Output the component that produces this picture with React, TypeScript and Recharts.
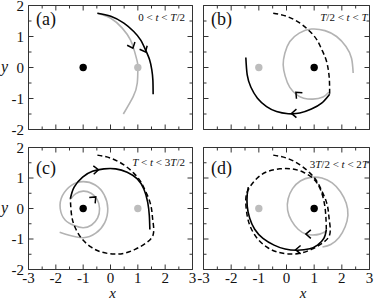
import React from "react";
import { ComposedChart, Line, Scatter, XAxis, YAxis } from "recharts";

type Pt = { x: number; y: number };
type Arrow = { x: number; y: number; dx: number; dy: number };

const pts = (a: number[][]): Pt[] => a.map(([x, y]) => ({ x, y }));

// trajectories, one array per half period
const blackA = pts([
  [-0.48, 1.75], [0.01, 1.65], [0.49, 1.43], [0.85, 1.16], [1.1, 0.89],
  [1.28, 0.57], [1.43, 0.25], [1.51, -0.07], [1.55, -0.4], [1.56, -0.86],
]);
const grayA = pts([
  [-0.48, 1.75], [0.01, 1.59], [0.43, 1.27], [0.73, 0.89], [0.88, 0.52],
  [0.98, 0.19], [1.0, 0.0], [0.98, -0.5], [0.83, -0.94], [0.47, -1.5],
]);
const blackB = pts([
  [1.56, -0.86], [1.27, -1.15], [0.9, -1.34], [0.48, -1.47], [0.06, -1.49],
  [-0.36, -1.42], [-0.72, -1.26], [-1.05, -0.99], [-1.29, -0.63], [-1.42, -0.24],
  [-1.47, 0.32],
]);
const grayB = pts([
  [1.53, -0.8], [1.32, -0.95], [0.95, -1.02], [0.62, -0.99], [0.4, -0.9],
  [0.12, -0.64], [-0.05, -0.27], [-0.12, 0.09], [-0.06, 0.46], [0.12, 0.84],
  [0.46, 1.11], [0.9, 1.24], [1.39, 1.19], [1.81, 1.0], [2.15, 0.68],
  [2.35, 0.3], [2.41, -0.18],
]);
const blackC = pts([
  [-1.47, 0.32], [-1.33, 0.7], [-1.02, 1.03], [-0.66, 1.22], [-0.24, 1.3],
  [0.19, 1.3], [0.61, 1.19], [0.98, 0.97], [1.22, 0.64], [1.36, 0.21],
  [1.42, -0.23], [1.44, -0.69],
]);
const grayC = pts([
  [-1.45, 0.32], [-1.28, 0.48], [-1.0, 0.57], [-0.71, 0.5], [-0.49, 0.3],
  [-0.4, 0.0], [-0.47, -0.31], [-0.69, -0.54], [-1.0, -0.63], [-1.33, -0.56],
  [-1.66, -0.38], [-1.84, 0.0], [-1.76, 0.42], [-1.43, 0.76], [-1.0, 0.88],
  [-0.56, 0.77], [-0.23, 0.45], [-0.1, 0.0], [-0.21, -0.46], [-0.54, -0.81],
  [-1.0, -0.96], [-1.51, -0.88], [-1.86, -0.78],
]);
const blackD = pts([
  [1.44, -0.69], [1.35, -0.98], [1.12, -1.2], [0.84, -1.32], [0.4, -1.37],
  [-0.05, -1.33], [-0.45, -1.2], [-0.85, -0.98], [-1.15, -0.68], [-1.33, -0.32],
  [-1.42, 0.08], [-1.42, 0.45], [-1.38, 0.7],
]);
const grayD = pts([
  [1.45, -0.74], [1.2, -0.84], [0.95, -0.87], [0.7, -0.84], [0.42, -0.68],
  [0.18, -0.4], [0.04, -0.05], [0.06, 0.32], [0.22, 0.65], [0.5, 0.9],
  [0.88, 1.02], [1.28, 1.0], [1.65, 0.84], [1.95, 0.55], [2.16, 0.17],
  [2.22, -0.22], [2.12, -0.6], [1.9, -0.95], [1.6, -1.18], [1.3, -1.26],
]);

const arrowsA: Arrow[] = [
  { x: 0.82, y: 0.62, dx: 0.15, dy: -0.37 },
  { x: 1.28, y: 0.5, dx: 0.3, dy: -0.64 },
];
const arrowsB: Arrow[] = [
  { x: 0.18, y: -1.48, dx: -1, dy: 0 },
  { x: 0.34, y: -0.8, dx: -0.7, dy: 0.7 },
];
const arrowsC: Arrow[] = [
  { x: -0.44, y: 1.27, dx: 1, dy: 0.05 },
  { x: -0.54, y: 0.38, dx: 0.7, dy: 0.7 },
];
const arrowsD: Arrow[] = [
  { x: 0.33, y: -1.35, dx: -1, dy: 0 },
  { x: 0.7, y: -0.84, dx: -1, dy: 0 },
];

const vortexLeft: Pt[] = [{ x: -1, y: 0 }];
const vortexRight: Pt[] = [{ x: 1, y: 0 }];

const xTicks = [-3, -2.5, -2, -1.5, -1, -0.5, 0, 0.5, 1, 1.5, 2, 2.5, 3];
const yTicks = [-2, -1.5, -1, -0.5, 0, 0.5, 1, 1.5, 2];
const panelNames = ["(a)", "(b)", "(c)", "(d)"];
const ranges = ["0 < t < T/2", "T/2 < t < T", "T < t < 3T/2", "3T/2 < t < 2T"];

const W = 374;
const H = 299;
const FONT = "Liberation Serif, Times New Roman, serif";
const GRAY = "#b3b3b3";
const FRAME = "#333";

type Side = "left" | "right" | "top" | "bottom";

function makeTick(side: Side, labels: boolean) {
  return (props: any) => {
    const { x, y, payload } = props;
    const v = payload.value;
    const major = Number.isInteger(v);
    const len = major ? 5 : 3;
    let line;
    if (side === "bottom") line = <line x1={x} y1={y} x2={x} y2={y - len} />;
    else if (side === "top") line = <line x1={x} y1={y} x2={x} y2={y + len} />;
    else if (side === "left") line = <line x1={x} y1={y} x2={x + len} y2={y} />;
    else line = <line x1={x} y1={y} x2={x - len} y2={y} />;
    let label = null;
    if (labels && major) {
      label =
        side === "bottom" ? (
          <text x={x} y={y + 13} textAnchor="middle" fontSize={15} fontFamily={FONT} fill="#111" stroke="none">
            {v}
          </text>
        ) : (
          <text x={x - 4.5} y={y + 5} textAnchor="end" fontSize={15} fontFamily={FONT} fill="#111" stroke="none">
            {v}
          </text>
        );
    }
    return (
      <g stroke={FRAME} strokeWidth={1}>
        {line}
        {label}
      </g>
    );
  };
}

function ArrowHead(p: any) {
  const { cx, cy, payload } = p;
  const a = Math.atan2(-payload.dy, payload.dx);
  const L = 6.5;
  const h = 0.7;
  const w1x = cx + L * Math.cos(a + Math.PI - h);
  const w1y = cy + L * Math.sin(a + Math.PI - h);
  const w2x = cx + L * Math.cos(a + Math.PI + h);
  const w2y = cy + L * Math.sin(a + Math.PI + h);
  return (
    <path
      d={`M${w1x},${w1y}L${cx},${cy}L${w2x},${w2y}`}
      fill="none"
      stroke="#000"
      strokeWidth={1.5}
    />
  );
}

const dot = (fill: string) => (p: any) => <circle cx={p.cx} cy={p.cy} r={3.7} fill={fill} />;

interface PanelProps {
  box: { left: number; right: number; top: number; bottom: number };
  dashed: Pt[] | null;
  solid: Pt[];
  gray: Pt[];
  arrows: Arrow[];
  black: Pt[];
  grayDot: Pt[];
  xLabels: boolean;
  yLabels: boolean;
}

function Panel({ box, dashed, solid, gray, arrows, black, grayDot, xLabels, yLabels }: PanelProps) {
  const axisLine = { stroke: FRAME, strokeWidth: 1 };
  // every axis takes 1px of room, so the margins are shifted by one
  return (
    <div style={{ position: "absolute", left: 0, top: 0 }}>
      <ComposedChart
        width={W}
        height={H}
        margin={{ top: box.top - 1, left: box.left - 1, right: W - box.right - 1, bottom: H - box.bottom - 1 }}
      >
        <XAxis xAxisId="b" dataKey="x" type="number" domain={[-3, 3]} ticks={xTicks} interval={0}
          height={1} tickLine={false} tickSize={0} tickMargin={0} axisLine={axisLine}
          tick={makeTick("bottom", xLabels)} allowDataOverflow />
        <XAxis xAxisId="t" orientation="top" dataKey="x" type="number" domain={[-3, 3]} ticks={xTicks} interval={0}
          height={1} tickLine={false} tickSize={0} tickMargin={0} axisLine={axisLine}
          tick={makeTick("top", false)} allowDataOverflow />
        <YAxis yAxisId="l" dataKey="y" type="number" domain={[-2, 2]} ticks={yTicks} interval={0}
          width={1} tickLine={false} tickSize={0} tickMargin={0} axisLine={axisLine}
          tick={makeTick("left", yLabels)} allowDataOverflow />
        <YAxis yAxisId="r" orientation="right" dataKey="y" type="number" domain={[-2, 2]} ticks={yTicks} interval={0}
          width={1} tickLine={false} tickSize={0} tickMargin={0} axisLine={axisLine}
          tick={makeTick("right", false)} allowDataOverflow />
        <Line xAxisId="b" yAxisId="l" data={gray} dataKey="y" type="natural" stroke={GRAY}
          strokeWidth={1.6} dot={false} activeDot={false} isAnimationActive={false} />
        {dashed && (
          <Line xAxisId="b" yAxisId="l" data={dashed} dataKey="y" type="natural" stroke="#000"
            strokeWidth={1.5} strokeDasharray="5 3" dot={false} activeDot={false} isAnimationActive={false} />
        )}
        <Line xAxisId="b" yAxisId="l" data={solid} dataKey="y" type="natural" stroke="#000"
          strokeWidth={1.6} dot={false} activeDot={false} isAnimationActive={false} />
        <Scatter xAxisId="b" yAxisId="l" data={black} dataKey="y" shape={dot("#000")} isAnimationActive={false} />
        <Scatter xAxisId="b" yAxisId="l" data={grayDot} dataKey="y" shape={dot("#bdbdbd")} isAnimationActive={false} />
        <Scatter xAxisId="b" yAxisId="l" data={arrows} dataKey="y" shape={ArrowHead} isAnimationActive={false} />
      </ComposedChart>
    </div>
  );
}

function RangeLabel({ text, x, y }: { text: string; x: number; y: number }) {
  const parts = text.split(/([tT])/).filter((s) => s.length > 0);
  return (
    <text x={x} y={y} textAnchor="end" fontSize={11} fontFamily={FONT} fill="#111">
      {parts.map((s, i) => (
        <tspan key={i} fontStyle={s === "t" || s === "T" ? "italic" : "normal"}>
          {s}
        </tspan>
      ))}
    </text>
  );
}

export default function App() {
  const A = { left: 28.5, right: 192.5, top: 5.5, bottom: 129.5 };
  const B = { left: 203.5, right: 369.5, top: 5.5, bottom: 129.5 };
  const C = { left: 28.5, right: 192.5, top: 147.5, bottom: 269.5 };
  const D = { left: 203.5, right: 369.5, top: 147.5, bottom: 269.5 };
  const dashedC = [...blackA, ...blackB.slice(1)];
  const dashedD = [...blackA, ...blackB.slice(1), ...blackC.slice(1)];
  return (
    <div style={{ position: "absolute", left: 0, top: 0, width: W, height: H, background: "#fff" }}>
      <Panel box={A} dashed={null} solid={blackA} gray={grayA} arrows={arrowsA}
        black={vortexLeft} grayDot={vortexRight} xLabels={false} yLabels />
      <Panel box={B} dashed={blackA} solid={blackB} gray={grayB} arrows={arrowsB}
        black={vortexRight} grayDot={vortexLeft} xLabels={false} yLabels={false} />
      <Panel box={C} dashed={dashedC} solid={blackC} gray={grayC} arrows={arrowsC}
        black={vortexLeft} grayDot={vortexRight} xLabels yLabels />
      <Panel box={D} dashed={dashedD} solid={blackD} gray={grayD} arrows={arrowsD}
        black={vortexRight} grayDot={vortexLeft} xLabels yLabels={false} />
      <svg width={W} height={H} style={{ position: "absolute", left: 0, top: 0, pointerEvents: "none" }}>
        <g fontFamily={FONT} fill="#111">
          <text x={36} y={25} fontSize={18}>{panelNames[0]}</text>
          <text x={211} y={25} fontSize={18}>{panelNames[1]}</text>
          <text x={36} y={173.5} fontSize={18}>{panelNames[2]}</text>
          <text x={211} y={173.5} fontSize={18}>{panelNames[3]}</text>
          <text x={4.5} y={71.5} fontSize={16} fontStyle="italic" textAnchor="middle">y</text>
          <text x={4.5} y={212.5} fontSize={16} fontStyle="italic" textAnchor="middle">y</text>
          <text x={112.5} y={297.5} fontSize={15} fontStyle="italic" textAnchor="middle">x</text>
          <text x={303} y={297.5} fontSize={15} fontStyle="italic" textAnchor="middle">x</text>
        </g>
        <RangeLabel text={ranges[0]} x={185} y={20.5} />
        <RangeLabel text={ranges[1]} x={367.5} y={20.5} />
        <RangeLabel text={ranges[2]} x={185} y={166} />
        <RangeLabel text={ranges[3]} x={368} y={167.5} />
      </svg>
    </div>
  );
}
